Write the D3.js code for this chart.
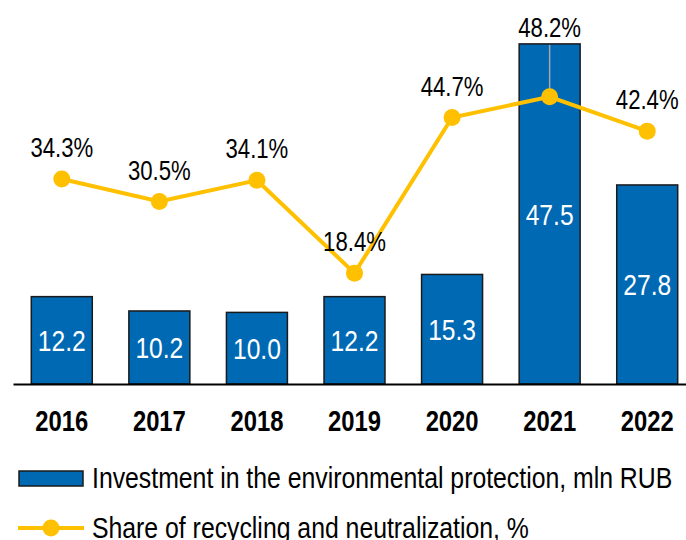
<!DOCTYPE html>
<html>
<head>
<meta charset="utf-8">
<script src="https://cdn.jsdelivr.net/npm/d3@7"></script>
<style>
  body { margin: 0; background: #fff; }
  svg { font-family: "Liberation Sans", Arial, sans-serif; }
</style>
</head>
<body>
<script>
const years = ["2016", "2017", "2018", "2019", "2020", "2021", "2022"];
const investment = [12.2, 10.2, 10.0, 12.2, 15.3, 47.5, 27.8];
const share = [34.3, 30.5, 34.1, 18.4, 44.7, 48.2, 42.4];
const legendLabels = ["Investment in the environmental protection, mln RUB", "Share of recycling and neutralization, %"];

const width = 686,
    height = 540;

const barColor = "#0069b4",
    lineColor = "#ffc000";

const svg = d3.select("body").append("svg")
    .attr("width", width)
    .attr("height", height);

// no narrow font installed, so squeeze the glyphs horizontally
function narrow(sel, k = 0.82) {
    sel.each(function () {
        const len = this.getComputedTextLength();
        d3.select(this)
            .attr("textLength", len * k)
            .attr("lengthAdjust", "spacingAndGlyphs");
    });
}

const x = d3.scaleBand()
    .domain(years)
    .range([13, 696])
    .paddingInner(0.375)
    .paddingOuter(0.1875);

const y = d3.scaleLinear().domain([0, 50]).range([384, 26]);
const y2 = d3.scaleLinear().domain([0, 60]).range([382, 27]);

const cx = i => x(years[i]) + x.bandwidth() / 2;

// bars
svg.append("g").selectAll("rect")
    .data(investment)
    .enter().append("rect")
    .attr("x", (d, i) => x(years[i]))
    .attr("y", d => y(d))
    .attr("width", x.bandwidth())
    .attr("height", d => y(0) - y(d))
    .attr("fill", barColor)
    .attr("stroke", "#1a1a1a")
    .attr("stroke-width", 1.5);

// bar values
svg.append("g").selectAll("text")
    .data(investment)
    .enter().append("text")
    .attr("x", (d, i) => cx(i))
    .attr("y", d => (y(d) + y(0)) / 2)
    .attr("dy", "0.36em")
    .attr("text-anchor", "middle")
    .style("font-size", "30px")
    .style("fill", "#fff")
    .text(d => d.toFixed(1))
    .call(narrow);

// x axis
const xAxis = svg.append("g")
    .attr("transform", `translate(0, ${y(0)})`)
    .call(d3.axisBottom(x).tickSize(0).tickPadding(26));
xAxis.select(".domain").attr("stroke", "#000").attr("stroke-width", 2);
xAxis.selectAll("text")
    .attr("font-family", null)
    .style("font-size", "29px")
    .style("font-weight", "bold")
    .style("fill", "#000")
    .call(narrow);

// label goes above the bar when the point sits inside it
const above = (d, i) => y2(d) > y(investment[i]);
const inside = d3.range(share.length).filter(i => above(share[i], i));

svg.append("g").selectAll("line")
    .data(inside)
    .enter().append("line")
    .attr("x1", i => cx(i))
    .attr("x2", i => cx(i))
    .attr("y1", i => y(investment[i]) + 1)
    .attr("y2", i => y2(share[i]))
    .attr("stroke", "#a6a6a6")
    .attr("stroke-width", 1.5);

// line series
const line = d3.line()
    .x((d, i) => cx(i))
    .y(d => y2(d));

svg.append("path")
    .datum(share)
    .attr("d", line)
    .attr("fill", "none")
    .attr("stroke", lineColor)
    .attr("stroke-width", 4);

svg.append("g").selectAll("circle")
    .data(share)
    .enter().append("circle")
    .attr("cx", (d, i) => cx(i))
    .attr("cy", d => y2(d))
    .attr("r", 8.5)
    .attr("fill", lineColor);

svg.append("g").selectAll("text")
    .data(share)
    .enter().append("text")
    .attr("x", (d, i) => cx(i))
    .attr("y", (d, i) => above(d, i) ? y(investment[i]) - 7 : y2(d) - 22)
    .attr("text-anchor", "middle")
    .style("font-size", "27px")
    .style("fill", "#000")
    .text(d => d.toFixed(1) + "%")
    .call(narrow);

// legend
const legend = svg.append("g");

legend.append("rect")
    .attr("x", 19).attr("y", 471)
    .attr("width", 64).attr("height", 15)
    .attr("fill", barColor)
    .attr("stroke", "#1a1a1a")
    .attr("stroke-width", 1.5);

legend.append("line")
    .attr("x1", 18).attr("x2", 84)
    .attr("y1", 528).attr("y2", 528)
    .attr("stroke", lineColor)
    .attr("stroke-width", 4);

legend.append("circle")
    .attr("cx", 51).attr("cy", 528).attr("r", 8.5)
    .attr("fill", lineColor);

legend.selectAll("text")
    .data(legendLabels)
    .enter().append("text")
    .attr("x", 92)
    .attr("y", (d, i) => 488 + i * 50)
    .style("font-size", "29px")
    .style("fill", "#000")
    .text(d => d)
    .call(narrow, 0.855);
</script>
</body>
</html>
